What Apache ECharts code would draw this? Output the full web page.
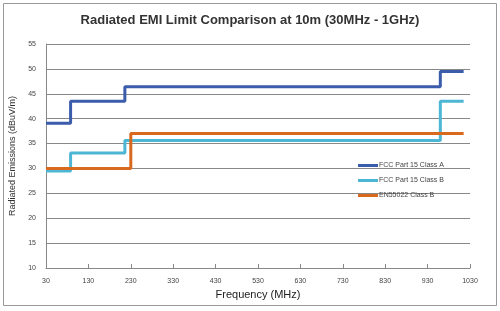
<!DOCTYPE html>
<html><head><meta charset="utf-8">
<script src="https://cdn.jsdelivr.net/npm/echarts@6/dist/echarts.min.js"></script>
<style>html,body{margin:0;padding:0;background:#fff}#c{width:500px;height:311px}</style>
</head><body><div id="c"></div>
<script>
const seriesNames = ['FCC Part 15 Class A', 'FCC Part 15 Class B', 'EN55022 Class B'];
const fccA = [[30, 39.1], [88, 43.5], [216, 46.4], [960, 49.5], [1015, 49.5]];
const fccB = [[30, 29.5], [88, 33.1], [216, 35.6], [960, 43.5], [1015, 43.5]];
const en55022B = [[30, 30], [230, 37], [1015, 37]];
const xTicks = [30, 130, 230, 330, 430, 530, 630, 730, 830, 930, 1030];
const yTicks = [10, 15, 20, 25, 30, 35, 40, 45, 50, 55];
const colors = ['#3B5CAA', '#4DB6D4', '#D9691F'];

const chart = echarts.init(document.getElementById('c'));
const mk = (name, data, i) => ({
  name, type: 'line', step: 'end', data, showSymbol: false, symbol: 'none',
  lineStyle: { width: 3, color: colors[i] }, itemStyle: { color: colors[i] }
});
chart.setOption({
  animation: false,
  title: {
    text: 'Radiated EMI Limit Comparison at 10m (30MHz - 1GHz)',
    left: 'center', top: 9,
    textStyle: { fontSize: 13, fontWeight: 'bold', color: '#333', fontFamily: 'Liberation Sans' }
  },
  graphic: [{ type: 'rect', shape: { x: 3.5, y: 3.5, width: 493, height: 302 }, style: { fill: 'none', stroke: '#999', lineWidth: 1 } }],
  legend: {
    orient: 'vertical', left: 353, top: 157, itemWidth: 20, itemHeight: 3, itemGap: 8,
    icon: 'rect',
    textStyle: { fontSize: 7, color: '#444', padding: [0, 0, 0, -4] },
    data: seriesNames
  },
  grid: { left: 46, right: 30, top: 44, bottom: 43 },
  xAxis: {
    type: 'value', min: xTicks[0], max: xTicks[xTicks.length - 1], interval: 100,
    name: 'Frequency (MHz)', nameLocation: 'middle', nameGap: 21,
    nameTextStyle: { fontSize: 11, color: '#222' },
    axisLine: { lineStyle: { color: '#888' } },
    axisTick: { show: true, inside: true, length: 4, lineStyle: { color: '#888' } },
    axisLabel: { fontSize: 7, color: '#444', margin: 10, formatter: v => String(v) },
    splitLine: { show: false }
  },
  yAxis: {
    type: 'value', min: yTicks[0], max: yTicks[yTicks.length - 1], interval: 5,
    name: 'Radiated Emissions (dBuV/m)', nameLocation: 'middle', nameGap: 26, nameRotate: 90,
    nameTextStyle: { fontSize: 9, color: '#333' },
    axisLine: { show: true, lineStyle: { color: '#888' } },
    axisTick: { show: false },
    axisLabel: { fontSize: 7, color: '#444', margin: 10 },
    splitLine: { lineStyle: { color: '#888', width: 1 } }
  },
  series: [mk(seriesNames[0], fccA, 0), mk(seriesNames[1], fccB, 1), mk(seriesNames[2], en55022B, 2)]
});
</script></body></html>
